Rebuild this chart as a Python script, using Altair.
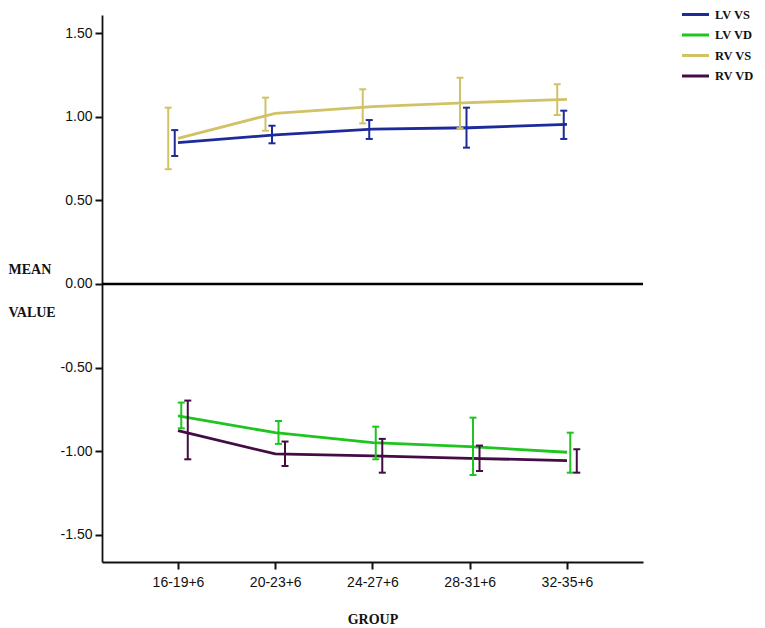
import altair as alt
import pandas as pd

groups = ["16-19+6", "20-23+6", "24-27+6", "28-31+6", "32-35+6"]
series_names = ["LV VS", "LV VD", "RV VS", "RV VD"]
dodge_order = ["RV VS", "LV VS", "LV VD", "RV VD"]
colors = ["#1c2a9c", "#1fc41f", "#d0c265", "#440c44"]

lv_vs_mean = [0.845, 0.891, 0.926, 0.934, 0.954]
lv_vs_low = [0.765, 0.841, 0.867, 0.815, 0.867]
lv_vs_high = [0.920, 0.946, 0.980, 1.054, 1.036]

lv_vd_mean = [-0.789, -0.889, -0.948, -0.972, -1.006]
lv_vd_low = [-0.863, -0.956, -1.048, -1.142, -1.128]
lv_vd_high = [-0.709, -0.819, -0.853, -0.799, -0.889]

rv_vs_mean = [0.871, 1.020, 1.060, 1.084, 1.104]
rv_vs_low = [0.686, 0.916, 0.960, 0.931, 1.010]
rv_vs_high = [1.054, 1.114, 1.164, 1.233, 1.194]

rv_vd_mean = [-0.877, -1.016, -1.028, -1.042, -1.056]
rv_vd_low = [-1.048, -1.088, -1.128, -1.118, -1.128]
rv_vd_high = [-0.697, -0.942, -0.926, -0.966, -0.988]

y_ticks = [-1.5, -1.0, -0.5, 0.0, 0.5, 1.0, 1.5]

table = {
    "LV VS": (lv_vs_mean, lv_vs_low, lv_vs_high),
    "LV VD": (lv_vd_mean, lv_vd_low, lv_vd_high),
    "RV VS": (rv_vs_mean, rv_vs_low, rv_vs_high),
    "RV VD": (rv_vd_mean, rv_vd_low, rv_vd_high),
}
rows = []
for name in series_names:
    m, lo, hi = table[name]
    for i, g in enumerate(groups):
        rows.append({"idx": i, "group": g, "series": name, "mean": m[i],
                     "low": lo[i], "high": hi[i], "rank": dodge_order.index(name)})
df = pd.DataFrame(rows)

label_expr = "[" + ",".join("'%s'" % g for g in groups) + "][datum.value]"

x_scale = alt.Scale(domain=[-0.7815, 4.7815], nice=False, zero=False)
y_scale = alt.Scale(domain=[-1.662, 1.608], nice=False, zero=False)
color_scale = alt.Scale(domain=series_names, range=colors)

x_axis = alt.Axis(values=list(range(len(groups))), labelExpr=label_expr, title="GROUP",
                  grid=False, titleY=57, titleBaseline="middle", titleX=270.5, titleAlign="center",
                  labelPadding=6)
y_axis = alt.Axis(values=y_ticks, labelExpr="replace(format(datum.value, '.2f'), '\u2212', '-')",
                  title=["MEAN", "VALUE"], grid=False,
                  titleAngle=0, titleAlign="left", titleBaseline="middle",
                  titleX=-94, titleY=254, titleLineHeight=43)

base = alt.Chart(df)

lines = base.mark_line(strokeWidth=2.8).encode(
    x=alt.X("idx:Q", scale=x_scale, axis=x_axis),
    y=alt.Y("mean:Q", scale=y_scale, axis=y_axis),
    color=alt.Color("series:N", scale=color_scale,
                    legend=alt.Legend(title=None, orient="none", legendX=582, legendY=-12,
                                      symbolType="M-1.35,0H1.35", symbolSize=400,
                                      symbolStrokeWidth=3, symbolOpacity=1,
                                      labelFont="Liberation Serif", labelFontWeight="bold",
                                      labelFontSize=12.5, labelColor="#111", labelOffset=8,
                                      rowPadding=2.5, padding=0)),
)

dodged = base.transform_calculate(xd="datum.idx + (datum.rank - 1.5) * 0.067")

bars = dodged.mark_rule(strokeWidth=2, opacity=1).encode(
    x=alt.X("xd:Q", scale=x_scale),
    y=alt.Y("low:Q", scale=y_scale),
    y2="high:Q",
    color=alt.Color("series:N", scale=color_scale),
)
caps_lo = dodged.mark_tick(orient="horizontal", size=7, thickness=2, opacity=1).encode(
    x=alt.X("xd:Q", scale=x_scale),
    y=alt.Y("low:Q", scale=y_scale),
    color=alt.Color("series:N", scale=color_scale),
)
caps_hi = dodged.mark_tick(orient="horizontal", size=7, thickness=2, opacity=1).encode(
    x=alt.X("xd:Q", scale=x_scale),
    y=alt.Y("high:Q", scale=y_scale),
    color=alt.Color("series:N", scale=color_scale),
)

zero = alt.Chart(pd.DataFrame({"z": [0.0]})).mark_rule(color="#000", strokeWidth=2.5).encode(
    y=alt.Y("z:Q", scale=y_scale)
)

chart = alt.layer(zero, lines, bars, caps_lo, caps_hi).properties(
    width=541, height=547,
    autosize=alt.AutoSizeParams(type="none"),
    padding={"left": 94, "top": 7, "right": 114, "bottom": 64},
).configure_view(stroke=None).configure_axis(
    domainColor="#111", domainWidth=1.8, tickColor="#111", tickWidth=2, tickSize=7,
    labelFont="Liberation Sans", labelFontSize=14, labelColor="#111", labelPadding=3,
    titleFont="Liberation Serif", titleFontWeight="bold", titleFontSize=14, titleColor="#111",
)

chart.save("out.html", embed_options={"renderer": "svg", "actions": False})
